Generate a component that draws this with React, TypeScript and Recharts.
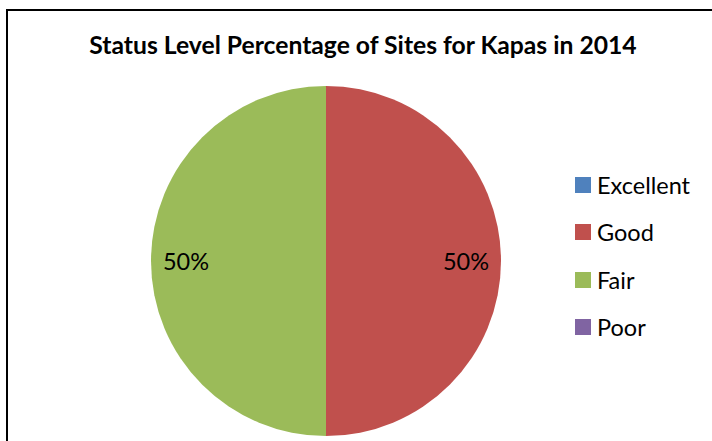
import React from "react";
import { PieChart, Pie, Cell, Legend } from "recharts";

const categories = ["Excellent", "Good", "Fair", "Poor"];
const percentages = [0, 50, 50, 0];
const COLORS = ["#4F81BD", "#C0504D", "#9BBB59", "#8064A2"];
const TITLE = "Status Level Percentage of Sites for Kapas in 2014";

const data = categories.map((name, i) => ({ name, value: percentages[i] }));

const FONT = "Lato, 'Open Sans', sans-serif";
const RAD = Math.PI / 180;

const renderLabel = (props: any) => {
  const { cx, cy, midAngle, outerRadius, value } = props;
  if (!value) return null;
  const r = outerRadius * 0.8;
  const x = cx + r * Math.cos(-midAngle * RAD);
  const y = cy + r * Math.sin(-midAngle * RAD);
  return (
    <text
      x={x}
      y={y}
      textAnchor="middle"
      dominantBaseline="central"
      fill="#000"
      fontSize={23.5}
      fontFamily={FONT}
    >
      {`${value}%`}
    </text>
  );
};

const LegendContent = () => (
  <div style={{ fontFamily: FONT, fontSize: 23.5, color: "#000" }}>
    {categories.map((c, i) => (
      <div key={c} style={{ display: "flex", alignItems: "center", height: 47.5 }}>
        <span
          style={{
            display: "inline-block",
            width: 16,
            height: 16,
            background: COLORS[i],
            marginRight: 6,
          }}
        />
        <span>{c}</span>
      </div>
    ))}
  </div>
);

export default function App() {
  return (
    <div
      style={{
        position: "fixed",
        left: 0,
        top: 0,
        width: 712,
        height: 441,
        overflow: "hidden",
        background: "#fff",
      }}
    >
      <div
        style={{
          position: "absolute",
          left: 6,
          top: 9,
          width: 800,
          height: 600,
          borderLeft: "2px solid #000",
          borderTop: "2px solid #000",
          boxSizing: "border-box",
        }}
      />
      <div
        style={{
          position: "absolute",
          left: 0,
          top: 30,
          width: 712,
          textAlign: "center",
          fontFamily: FONT,
          fontWeight: "bold",
          fontSize: 24.7,
          color: "#000",
          paddingLeft: 14,
          boxSizing: "border-box",
          whiteSpace: "nowrap",
        }}
      >
        {TITLE}
      </div>
      <div style={{ position: "absolute", left: 0, top: 0 }}>
        <PieChart width={712} height={441} margin={{ top: 0, right: 0, bottom: 0, left: 0 }}>
          <Pie
            data={data}
            dataKey="value"
            nameKey="name"
            cx={326}
            cy={261}
            outerRadius={175}
            startAngle={90}
            endAngle={-270}
            stroke="none"
            label={renderLabel}
            labelLine={false}
            isAnimationActive={false}
          >
            {data.map((d, i) => (
              <Cell key={d.name} fill={COLORS[i]} />
            ))}
          </Pie>
          <Legend
            content={<LegendContent />}
            wrapperStyle={{ position: "absolute", left: 575, top: 161, width: 135 }}
          />
        </PieChart>
      </div>
    </div>
  );
}
